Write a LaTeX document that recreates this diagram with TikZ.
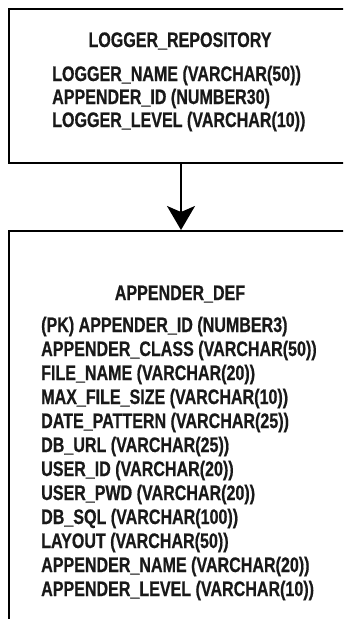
\documentclass[tikz,border=0pt]{standalone}
\usepackage{fontspec}
\usetikzlibrary{arrows.meta}
\newfontfamily\tablefont{Liberation Sans}[FakeStretch=0.765, FakeBold=0.6]
\tikzset{
  tablebox/.style={draw=black, line width=2pt, rectangle, inner sep=0pt, anchor=north west},
  tabletitle/.style={font=\tablefont\bfseries\fontsize{21}{21}\selectfont, text=black!90, inner sep=0pt, anchor=base},
  column/.style={font=\tablefont\bfseries\fontsize{21}{21}\selectfont, text=black!90, inner sep=0pt, anchor=base west},
  link/.style={line width=2pt, -{Stealth[width=28pt,length=24pt,inset=6pt]}}
}
\begin{document}
\begin{tikzpicture}[x=1pt,y=-1pt]
\useasboundingbox (0,0) rectangle (343,619);
\clip (0,0) rectangle (343,619);
% table frames (both run past the right edge, the lower one past the bottom)
\node[tablebox, minimum width=344pt, minimum height=154pt] (repo) at (8,8) {};
\node[tablebox, minimum width=344pt, minimum height=420pt] (appdef) at (8,230) {};
% foreign key link
\draw[link] (repo.south) -- (appdef.north);
% LOGGER_REPOSITORY
\node[tabletitle] (t1) at (180,47) {LOGGER\_REPOSITORY};
\node[column] (r1) at (52,81) {LOGGER\_NAME (VARCHAR(50))};
\node[column] (r2) at (52,104) {APPENDER\_ID (NUMBER30)};
\node[column] (r3) at (52,127) {LOGGER\_LEVEL (VARCHAR(10))};
% APPENDER_DEF
\node[tabletitle] (t2) at (180,300) {APPENDER\_DEF};
\foreach \txt [count=\i] in {
  (PK) APPENDER\_ID (NUMBER3),
  APPENDER\_CLASS (VARCHAR(50)),
  FILE\_NAME (VARCHAR(20)),
  MAX\_FILE\_SIZE (VARCHAR(10)),
  DATE\_PATTERN (VARCHAR(25)),
  DB\_URL (VARCHAR(25)),
  USER\_ID (VARCHAR(20)),
  USER\_PWD (VARCHAR(20)),
  DB\_SQL (VARCHAR(100)),
  LAYOUT (VARCHAR(50)),
  APPENDER\_NAME (VARCHAR(20)),
  APPENDER\_LEVEL (VARCHAR(10))}
  \node[column] (a\i) at (41,{308+24*\i}) {\txt};
\end{tikzpicture}
\end{document}
